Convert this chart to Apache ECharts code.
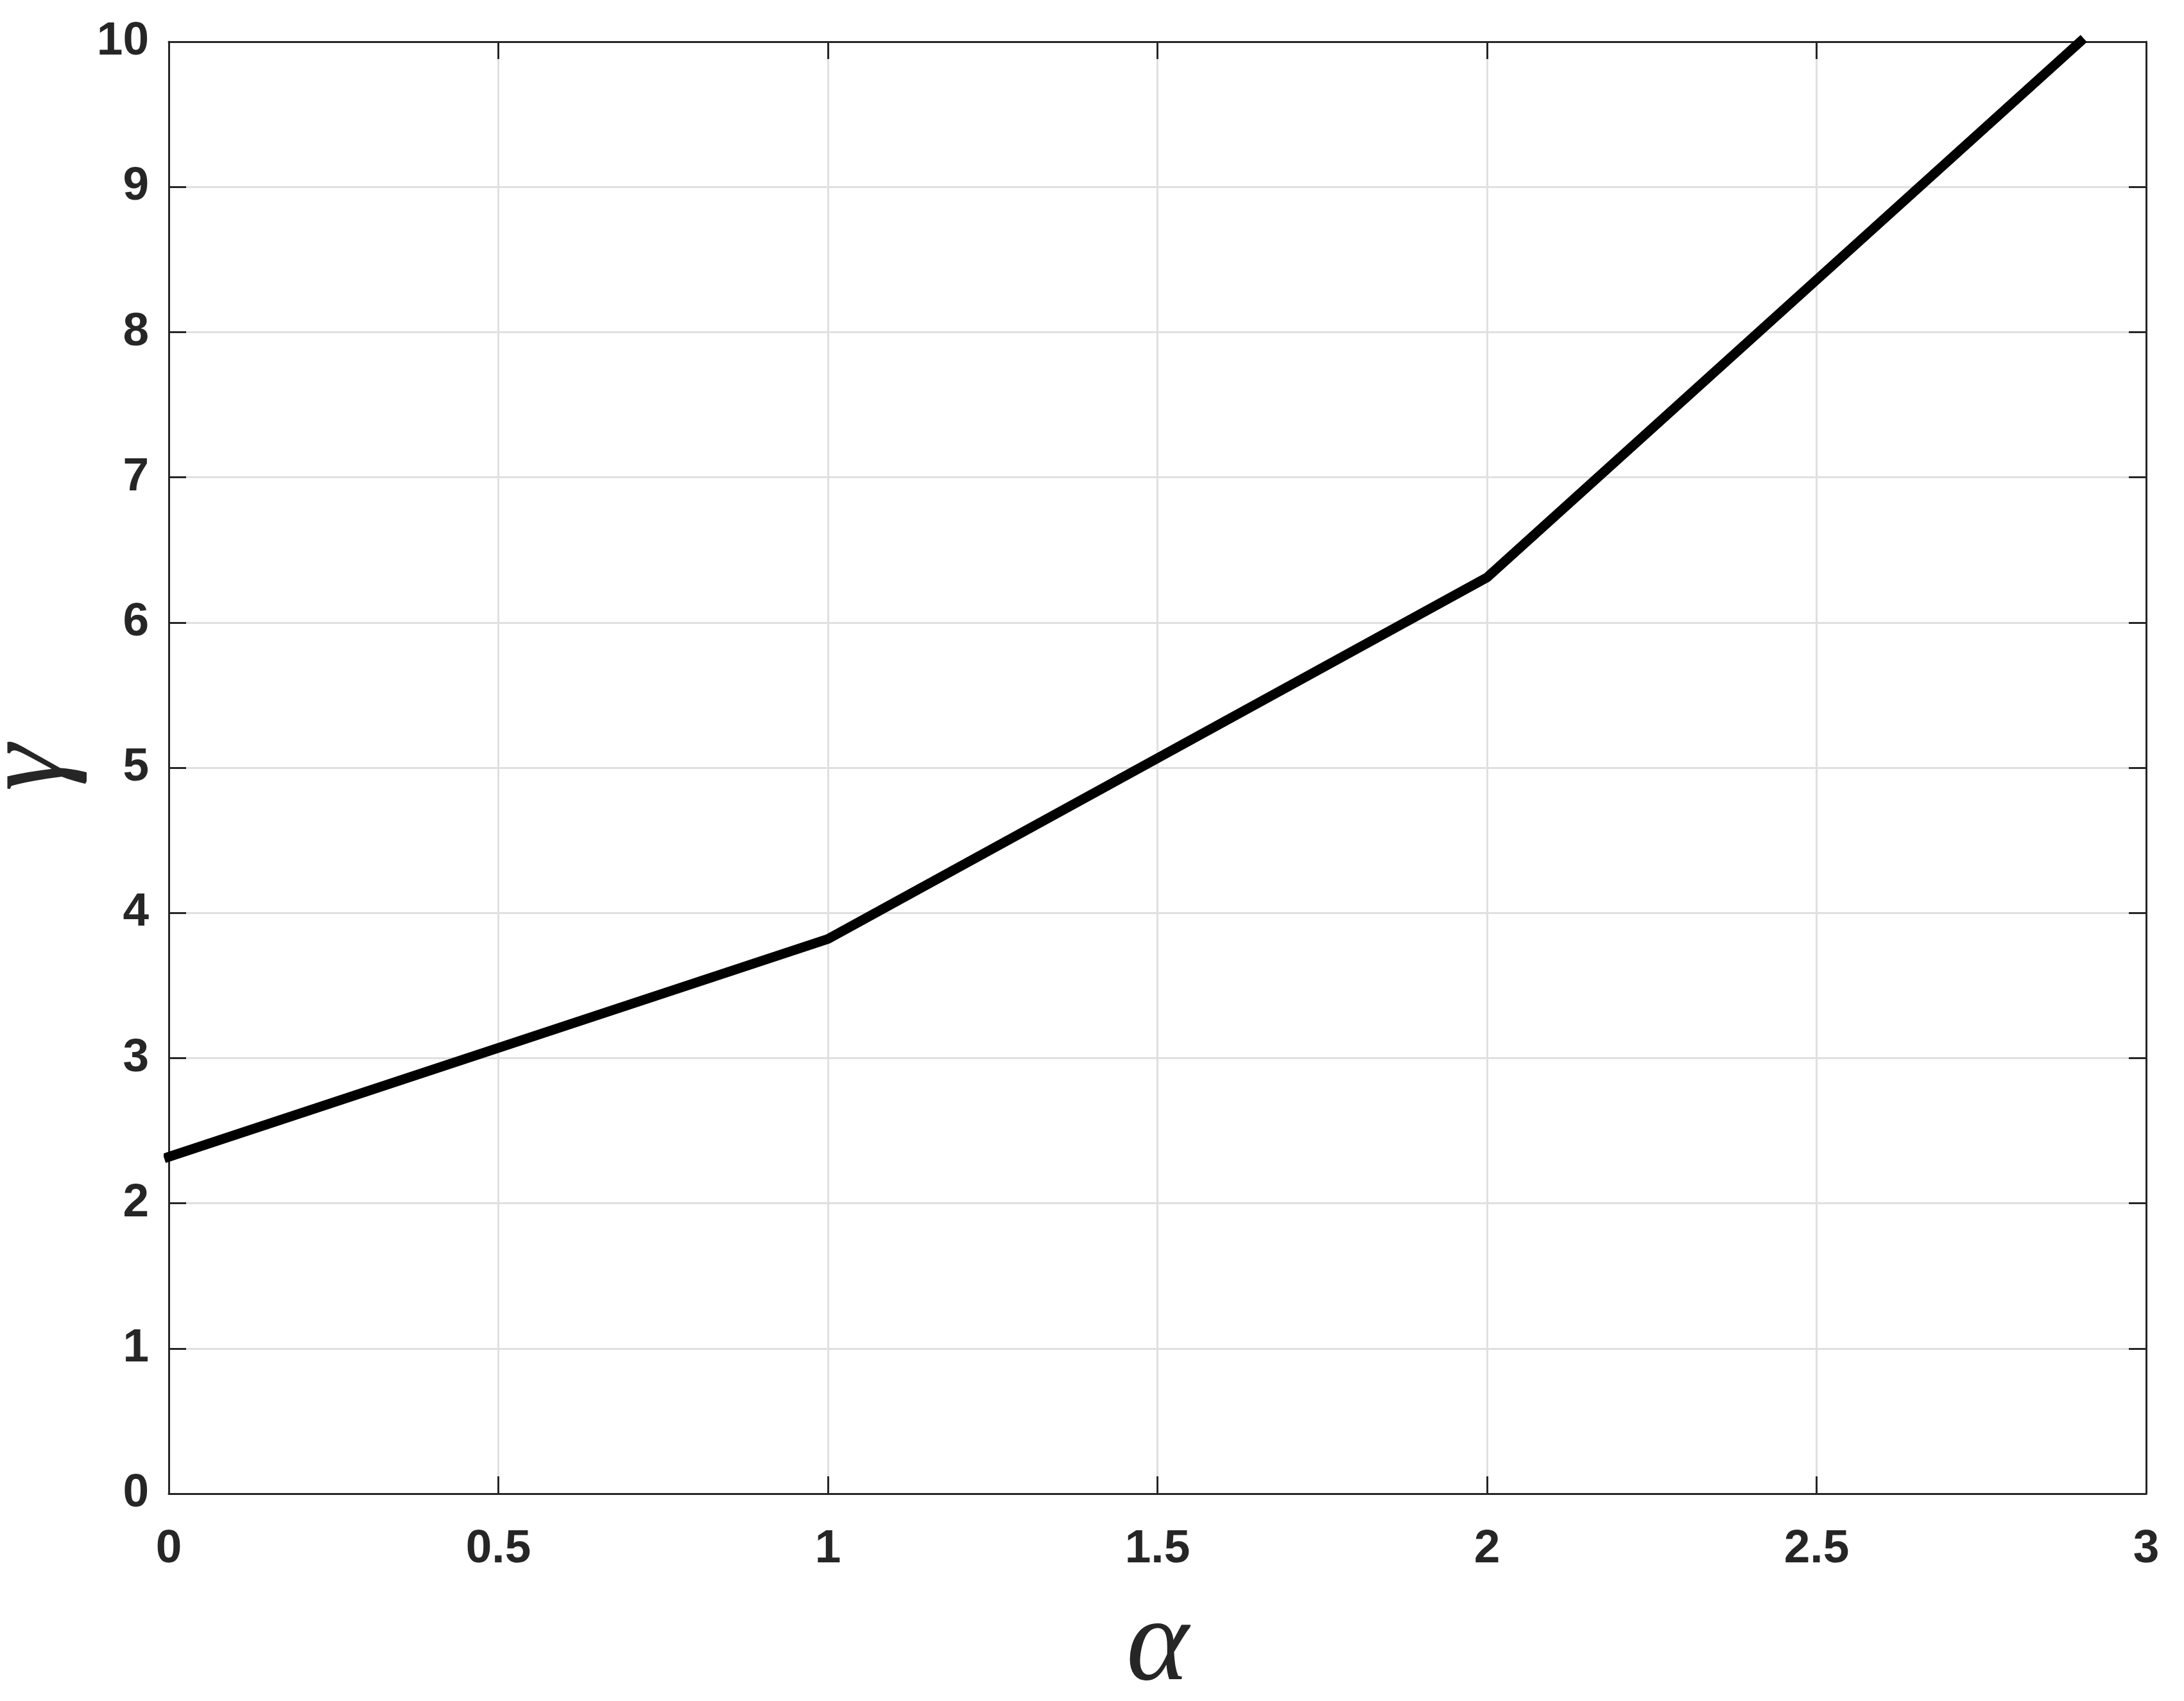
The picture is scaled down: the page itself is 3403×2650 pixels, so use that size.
<!DOCTYPE html>
<html>
<head>
<meta charset="utf-8">
<script src="https://cdn.jsdelivr.net/npm/echarts@6/dist/echarts.min.js"></script>
<style>
html,body{margin:0;padding:0;background:#fff;}
#c{width:3403px;height:2650px;}
</style>
</head>
<body>
<div id="c"></div>
<script>
const alphaValues = [0, 1, 2, 2.9];
const gammaValues = [2.32, 3.82, 6.31, 10.0];
const xName = 'α';
const yName = 'γ';

const chart = echarts.init(document.getElementById('c'), null, {renderer: 'canvas'});
const axisColor = '#262626';
const gridColor = '#e0e0e0';
const labelFont = {fontFamily: 'Liberation Sans', fontWeight: 'bold', fontSize: 73, color: axisColor};
const nameFont = {fontFamily: 'Liberation Serif', fontStyle: 'italic', fontSize: 185, color: axisColor};

const data = alphaValues.map((a, i) => [a, gammaValues[i]]);

chart.setOption({
  animation: false,
  backgroundColor: '#ffffff',
  grid: {left: 263, top: 65, width: 3081, height: 2262, containLabel: false, outerBoundsMode: 'none'},
  xAxis: [{
    type: 'value', min: 0, max: 3, interval: 0.5, position: 'bottom',
    name: xName, nameLocation: 'middle', nameGap: 148, nameTextStyle: nameFont,
    axisLine: {show: true, onZero: false, lineStyle: {color: axisColor, width: 3}},
    axisTick: {show: true, inside: true, length: 27, lineStyle: {color: axisColor, width: 3}},
    axisLabel: Object.assign({margin: 50}, labelFont),
    splitLine: {show: true, lineStyle: {color: gridColor, width: 3}}
  }, {
    type: 'value', min: 0, max: 3, interval: 0.5, position: 'top',
    axisLine: {show: true, onZero: false, lineStyle: {color: axisColor, width: 3}},
    axisTick: {show: true, inside: true, length: 27, lineStyle: {color: axisColor, width: 3}},
    axisLabel: {show: false}, splitLine: {show: false}
  }],
  yAxis: [{
    type: 'value', min: 0, max: 10, interval: 1, position: 'left',
    name: yName, nameLocation: 'middle', nameGap: 113, nameRotate: 90, nameTextStyle: nameFont,
    axisLine: {show: true, onZero: false, lineStyle: {color: axisColor, width: 3}},
    axisTick: {show: true, inside: true, length: 27, lineStyle: {color: axisColor, width: 3}},
    axisLabel: Object.assign({margin: 31}, labelFont),
    splitLine: {show: true, lineStyle: {color: gridColor, width: 3}}
  }, {
    type: 'value', min: 0, max: 10, interval: 1, position: 'right',
    axisLine: {show: true, onZero: false, lineStyle: {color: axisColor, width: 3}},
    axisTick: {show: true, inside: true, length: 27, lineStyle: {color: axisColor, width: 3}},
    axisLabel: {show: false}, splitLine: {show: false}
  }],
  series: [{
    type: 'line', xAxisIndex: 0, yAxisIndex: 0, data: data,
    showSymbol: false, symbol: 'none', clip: false,
    lineStyle: {color: '#000000', width: 15, cap: 'square', join: 'round'},
    z: 5
  }]
});
</script>
</body>
</html>
